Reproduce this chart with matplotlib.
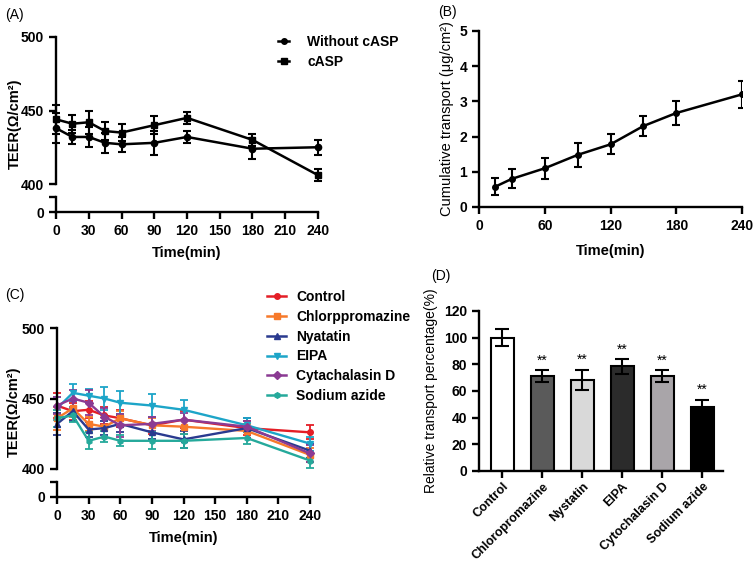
import numpy as np
import matplotlib
matplotlib.use("Agg")
import matplotlib.pyplot as plt
from matplotlib.lines import Line2D

plt.rcParams['font.family'] = ['Liberation Sans', 'DejaVu Sans']
plt.rcParams['font.weight'] = 'bold'
plt.rcParams['axes.labelweight'] = 'bold'
plt.rcParams['axes.linewidth'] = 1.7

# ---- data ----
# (A) TEER with / without cASP
time_a = [0, 15, 30, 45, 60, 90, 120, 180, 240]
teer_without = [438, 432, 432, 428, 427, 428, 432, 424, 425]
teer_without_err = [10, 5, 7, 7, 5, 8, 4, 7, 5]
teer_casp = [444, 441, 442, 436, 435, 440, 445, 430, 406]
teer_casp_err = [10, 6, 8, 6, 6, 6, 4, 4, 4]

# (B) cumulative transport
time_b = [15, 30, 60, 90, 120, 150, 180, 240]
cum_transport = [0.58, 0.8, 1.1, 1.48, 1.78, 2.3, 2.67, 3.2]
cum_transport_err = [0.23, 0.27, 0.3, 0.35, 0.28, 0.28, 0.35, 0.38]

# (C) TEER with inhibitors
time_c = [0, 15, 30, 45, 60, 90, 120, 180, 240]
inhib_names = ['Control', 'Chlorppromazine', 'Nyatatin', 'EIPA', 'Cytachalasin D', 'Sodium azide']
teer_control = [445, 441, 442, 438, 436, 431, 435, 429, 426]
teer_chlorp = [436, 443, 432, 430, 436, 431, 430, 427, 410]
teer_nyat = [432, 441, 428, 429, 432, 426, 421, 429, 413]
teer_eipa = [443, 454, 452, 450, 447, 445, 442, 431, 418]
teer_cyto = [445, 450, 447, 437, 431, 432, 435, 430, 411]
teer_sodium = [436, 438, 420, 423, 420, 420, 420, 422, 406]
err_control = [9, 6, 6, 6, 6, 6, 6, 5, 5]
err_chlorp = [8, 6, 5, 8, 5, 5, 5, 5, 5]
err_nyat = [8, 7, 5, 5, 6, 5, 6, 7, 5]
err_eipa = [8, 6, 5, 8, 8, 8, 7, 5, 5]
err_cyto = [6, 6, 9, 6, 8, 5, 5, 4, 6]
err_sodium = [6, 5, 6, 4, 4, 6, 5, 4, 5]

# (D) relative transport
bar_names = ['Control', 'Chloropromazine', 'Nystatin', 'EIPA', 'Cytochalasin D', 'Sodium azide']
bar_vals = [100, 71, 68.5, 78.5, 71, 48]
bar_errs = [6.5, 4.5, 7.5, 5.5, 4.5, 5.5]
bar_stars = ['', '**', '**', '**', '**', '**']

W, H = 755, 566
fig = plt.figure(figsize=(W / 100, H / 100), dpi=100)


def fax(x0, y0, x1, y1):
    # pixel box -> figure axes
    return fig.add_axes([x0 / W, 1 - y1 / H, (x1 - x0) / W, (y1 - y0) / H])


def broken_axes(x0, x1, ytop, ybot, y2top, y2bot):
    up = fax(x0, ytop, x1, ybot)
    lo = fax(x0, y2top, x1, y2bot)
    for s in ['top', 'right', 'bottom']:
        up.spines[s].set_visible(False)
    for s in ['top', 'right']:
        lo.spines[s].set_visible(False)
    up.set_ylim(400, 500)
    up.set_yticks([400, 450, 500])
    up.set_xlim(0, 240)
    up.set_xticks([])
    lo.set_xlim(0, 240)
    lo.set_ylim(0, 20)
    lo.set_yticks([0, 20])
    lo.set_yticklabels(['0', ''])
    lo.set_xticks(range(0, 241, 30))
    for a in (up, lo):
        a.tick_params(width=1.7, length=5, labelsize=10)
    lo.set_xlabel('Time(min)', fontsize=10.5, labelpad=6)
    return up, lo


# ---- (A) ----
axA, axA2 = broken_axes(56, 318, 37, 184, 197, 212)
axA.errorbar(time_a, teer_without, yerr=teer_without_err, color='black', marker='o',
             ms=4.5, lw=1.8, capsize=3, elinewidth=1.5, capthick=1.5, clip_on=False)
axA.errorbar(time_a, teer_casp, yerr=teer_casp_err, color='black', marker='s',
             ms=4.5, lw=1.8, capsize=3, elinewidth=1.5, capthick=1.5, clip_on=False)
fig.text(15 / W, 1 - 124 / H, 'TEER(Ω/cm²)', rotation=90, ha='center', va='center',
         fontsize=10.5)
fig.text(5 / W, 1 - 15 / H, '(A)', fontsize=10, fontweight='normal', va='center')
hA = [Line2D([], [], color='black', marker='o', ms=4, lw=1.8),
      Line2D([], [], color='black', marker='s', ms=4, lw=1.8)]
fig.legend(hA, ['Without cASP', 'cASP'], loc='upper left',
           bbox_to_anchor=(278 / W, 1 - 35 / H), frameon=False,
           fontsize=10, handlelength=0.8, handletextpad=1.3, labelspacing=0.4,
           borderaxespad=0, borderpad=0)

# ---- (B) ----
axB = fax(479, 31, 742, 207)
for s in ['top', 'right']:
    axB.spines[s].set_visible(False)
axB.errorbar(time_b, cum_transport, yerr=cum_transport_err, color='black', marker='o',
             ms=4, lw=1.8, capsize=3, elinewidth=1.5, capthick=1.5)
axB.set_xlim(0, 240)
axB.set_ylim(0, 5)
axB.set_xticks([0, 60, 120, 180, 240])
axB.set_yticks(range(0, 6))
axB.tick_params(width=1.7, length=5, labelsize=10)
axB.set_xlabel('Time(min)', fontsize=10.5, labelpad=8)
axB.set_ylabel('Cumulative transport (μg/cm²)', fontsize=10.5, fontweight='normal',
               labelpad=4)
fig.text(438 / W, 1 - 12 / H, '(B)', fontsize=10, fontweight='normal', va='center')

# ---- (C) ----
axC, axC2 = broken_axes(57, 310, 328, 469, 482, 497)
c_series = [teer_control, teer_chlorp, teer_nyat, teer_eipa, teer_cyto, teer_sodium]
c_errs = [err_control, err_chlorp, err_nyat, err_eipa, err_cyto, err_sodium]
c_colors = ['#E41E26', '#F7792A', '#2A3A8F', '#1DA5C8', '#8B3A93', '#25A99B']
c_markers = ['o', 's', '^', 'v', 'D', 'h']
hC = []
for name, ys, es, col, mk in zip(inhib_names, c_series, c_errs, c_colors, c_markers):
    axC.errorbar(time_c, ys, yerr=es, color=col, marker=mk, ms=4, lw=1.7, capsize=3,
                 elinewidth=1.3, capthick=1.3, clip_on=False)
    hC.append(Line2D([], [], color=col, marker=mk, ms=4, lw=1.8))
fig.text(14 / W, 1 - 412 / H, 'TEER(Ω/cm²)', rotation=90, ha='center', va='center',
         fontsize=10.5)
fig.text(5 / W, 1 - 295 / H, '(C)', fontsize=10, fontweight='normal', va='center')
fig.legend(hC, inhib_names, loc='upper left', bbox_to_anchor=(267 / W, 1 - 290 / H),
           frameon=False, fontsize=10, handlelength=1.4, handletextpad=0.7,
           labelspacing=0.42, borderaxespad=0, borderpad=0)

# ---- (D) ----
axD = fax(479, 311, 723, 471)
for s in ['top', 'right']:
    axD.spines[s].set_visible(False)
bar_colors = ['white', '#5a5a5a', '#d9d9d9', '#2b2b2b', '#a9a5a9', '#000000']
xs = np.arange(len(bar_vals))
axD.bar(xs, bar_vals, width=0.58, color=bar_colors, edgecolor='black', linewidth=1.5,
        zorder=2)
axD.errorbar(xs, bar_vals, yerr=bar_errs, fmt='none', ecolor='black', elinewidth=1.5,
             capsize=5, capthick=1.5, zorder=3)
for x, v, e, s in zip(xs, bar_vals, bar_errs, bar_stars):
    if s:
        axD.text(x, v + e + 2, s, ha='center', va='bottom', fontsize=10, fontweight='normal')
axD.set_xlim(-0.58, 5.52)
axD.set_ylim(0, 120)
axD.set_yticks(range(0, 121, 20))
axD.set_xticks(xs)
axD.set_xticklabels(bar_names, rotation=45, ha='right', rotation_mode='anchor')
axD.tick_params(width=1.7, length=5, labelsize=10)
axD.tick_params(axis='x', labelsize=9, pad=2)
axD.set_ylabel('Relative transport percentage(%)', fontsize=10, fontweight='normal',
               labelpad=4)
fig.text(431 / W, 1 - 276 / H, '(D)', fontsize=10, fontweight='normal', va='center')

plt.savefig('out.png', dpi=100)
